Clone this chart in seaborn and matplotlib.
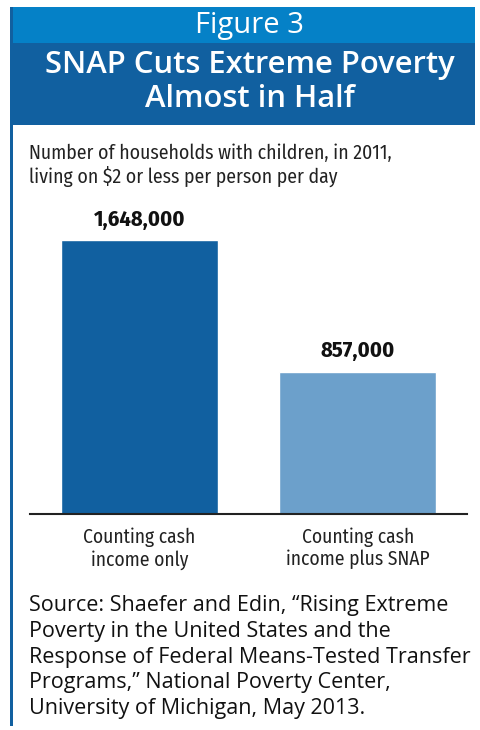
import matplotlib
matplotlib.use("Agg")
import matplotlib.pyplot as plt
import seaborn as sns
import pandas as pd
from matplotlib.patches import Rectangle
from matplotlib import font_manager

categories = ["Counting cash\nincome only", "Counting cash\nincome plus SNAP"]
values = [1648000, 857000]
value_labels = ["1,648,000", "857,000"]
bar_colors = ["#1160A0", "#6CA0CB"]

sns.set_theme(style="white")
plt.rcParams['font.family'] = ['DejaVu Sans']

names = {f.name for f in font_manager.fontManager.ttflist}

def pick(cands, default="DejaVu Sans"):
    for c in cands:
        if c in names:
            return c
    return default

narrow = pick(["Fira Sans Condensed", "PT Sans Narrow", "Roboto Condensed", "Open Sans Condensed",
               "Archivo Narrow", "Encode Sans Condensed"])
head = "Open Sans"

W, H = 480, 730
fig = plt.figure(figsize=(W / 100, H / 100), dpi=100)
fig.patch.set_facecolor("white")

def fx(px):
    return px / W

def fy(py):
    return 1 - py / H

# header bands
fig.patches.append(Rectangle((fx(11), fy(43)), fx(475) - fx(11), fy(7) - fy(43),
                             transform=fig.transFigure, facecolor="#0581C7", edgecolor="none", zorder=0))
fig.patches.append(Rectangle((fx(11), fy(125)), fx(475) - fx(11), fy(43) - fy(125),
                             transform=fig.transFigure, facecolor="#1160A0", edgecolor="none", zorder=0))
# left border
fig.patches.append(Rectangle((fx(10), fy(726)), fx(2.5), fy(7) - fy(726),
                             transform=fig.transFigure, facecolor="#1160A0", edgecolor="none", zorder=0))

fig.text(fx(249), fy(25), "Figure 3", ha="center", va="center", color="white",
         fontsize=21, family=head, fontweight="normal")
fig.text(fx(250), fy(65), "SNAP Cuts Extreme Poverty", ha="center", va="center", color="white",
         fontsize=22.3, family=head, fontweight="semibold")
fig.text(fx(250), fy(99), "Almost in Half", ha="center", va="center", color="white",
         fontsize=22.3, family=head, fontweight="semibold")

cond = dict(family=narrow)
fig.text(fx(29), fy(165), "Number of households with children, in 2011,\nliving on $2 or less per person per day",
         ha="left", va="center", color="#222222", fontsize=14.2, linespacing=1.15, **cond)

# chart axes
ax_top_px, ax_bot_px = 200, 514
ax = fig.add_axes([fx(30), fy(ax_bot_px), fx(467) - fx(30), fy(ax_top_px) - fy(ax_bot_px)])
df = pd.DataFrame({"cat": categories, "val": values})
sns.barplot(data=df, x="cat", y="val", hue="cat", palette=bar_colors, width=0.72,
            legend=False, ax=ax, saturation=1)
ax.set_xlim(-0.5, 1.5)
ymax = values[0] * (ax_bot_px - ax_top_px) / (ax_bot_px - 240)
ax.set_ylim(0, ymax)
for s in ["top", "right", "left"]:
    ax.spines[s].set_visible(False)
ax.spines["bottom"].set_color("#222222")
ax.spines["bottom"].set_linewidth(1.5)
ax.set_yticks([])
ax.set_xlabel("")
ax.set_ylabel("")
ax.tick_params(axis="x", length=0, pad=10)
ax.set_xticks(range(len(categories)))
ax.set_xticklabels(categories, fontsize=14, color="#222222", linespacing=1.15, **cond)
ax.set_facecolor("none")
for i, (v, lab) in enumerate(zip(values, value_labels)):
    ax.annotate(lab, (i, v), xytext=(0, 7), textcoords="offset points", ha="center", va="bottom",
                fontsize=16.2, fontweight="bold", color="#111111", **cond)

source = ("Source: Shaefer and Edin, \u201cRising Extreme\n"
          "Poverty in the United States and the\n"
          "Response of Federal Means-Tested Transfer\n"
          "Programs,\u201d National Poverty Center,\n"
          "University of Michigan, May 2013.")
fig.text(fx(29), fy(657), source, ha="left", va="center", color="#111111",
         fontsize=15.5, linespacing=1.29, family=head)

fig.savefig("out.png", dpi=100)
